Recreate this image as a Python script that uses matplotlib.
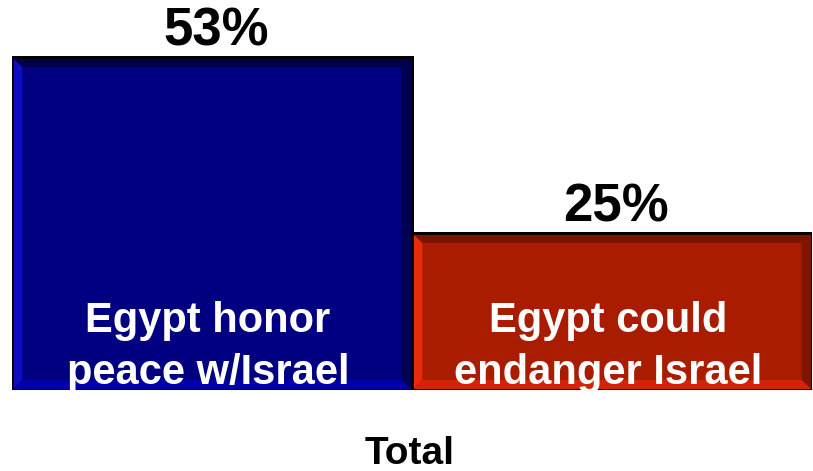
import matplotlib.pyplot as plt
from matplotlib.patches import Polygon

plt.rcParams['font.family'] = ['Liberation Sans', 'DejaVu Sans']

# data
categories = ['Egypt honor\npeace w/Israel', 'Egypt could\nendanger Israel']
values = [53, 25]
value_labels = ['53%', '25%']
group_label = 'Total'

main_colors = ['#000080', '#AA1C00']
# bevel colours: top, left, right, bottom
bevel_colors = [
    ['#000048', '#0C0CC0', '#000050', '#0000A8'],
    ['#781400', '#E62C0A', '#7E1500', '#D42408'],
]

fig = plt.figure(figsize=(8.13, 4.71), dpi=100)
ax = fig.add_axes([12 / 813, 81 / 471, 800 / 813, 390 / 471])
ax.set_xlim(-0.5, 1.5)
ax.set_ylim(0, 62.1)
ax.axis('off')

x = list(range(len(values)))
ax.bar(x, values, width=1.0, color=main_colors, edgecolor='black', linewidth=2, zorder=2)

# bevel edges
bx = 0.026   # ~10 px
by = 1.6     # ~10 px
for i, v in enumerate(values):
    x0, x1 = i - 0.5, i + 0.5
    top, left, right, bottom = bevel_colors[i]
    polys = [
        ([(x0, v), (x1, v), (x1 - bx, v - by), (x0 + bx, v - by)], top),
        ([(x0, 0), (x0, v), (x0 + bx, v - by), (x0 + bx, by)], left),
        ([(x1, 0), (x1, v), (x1 - bx, v - by), (x1 - bx, by)], right),
        ([(x0, 0), (x1, 0), (x1 - bx, by), (x0 + bx, by)], bottom),
    ]
    for pts, c in polys:
        ax.add_patch(Polygon(pts, closed=True, facecolor=c, edgecolor='none', zorder=3))
    ax.add_patch(plt.Rectangle((x0, 0), 1.0, v, fill=False, edgecolor='black',
                               linewidth=2, zorder=4))

    ax.text(i + 0.01, v + 0.1, value_labels[i], ha='center', va='bottom',
            fontsize=38, fontweight='bold', color='black', zorder=5)
    ax.text(i - 0.01, 6.8, categories[i], ha='center', va='center',
            fontsize=30, fontweight='bold', color='white', linespacing=1.4, zorder=5)

fig.text(410 / 813, 1 - 454 / 471, group_label, ha='center', va='center',
         fontsize=28, fontweight='bold', color='black')

fig.savefig('out.png', dpi=100)
